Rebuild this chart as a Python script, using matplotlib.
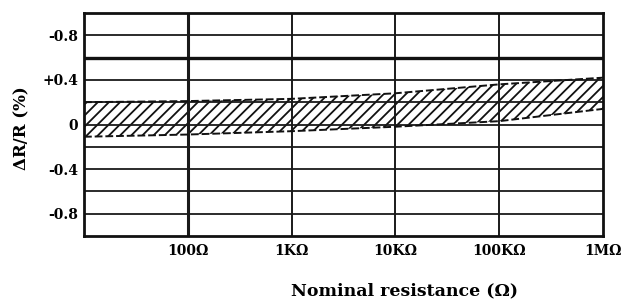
import matplotlib
matplotlib.use("Agg")
import matplotlib.pyplot as plt
import numpy as np

# Data
resistance = [10, 100, 1e3, 1e4, 1e5, 1e6]
band_upper = [0.20, 0.21, 0.23, 0.28, 0.36, 0.42]
band_lower = [-0.11, -0.09, -0.06, -0.02, 0.03, 0.14]
limit_line = 0.6

xtick_vals = [100, 1e3, 1e4, 1e5, 1e6]
xtick_labels = ["100Ω", "1KΩ", "10KΩ", "100KΩ", "1MΩ"]
ytick_vals = [0.8, 0.4, 0.0, -0.4, -0.8]
ytick_labels = ["-0.8", "+0.4", "0", "-0.4", "-0.8"]
ygrid_vals = [0.8, 0.4, 0.2, 0.0, -0.2, -0.4, -0.6, -0.8]
xgrid_vals = [100, 1e3, 1e4, 1e5]

plt.rcParams['font.family'] = ['DejaVu Serif']
plt.rcParams['hatch.linewidth'] = 1.3

fig = plt.figure(figsize=(6.37, 3.04), dpi=100)
ax = fig.add_axes([84/637, 1 - 236/304, (603-84)/637, (236-13)/304])

ax.set_xscale('log')
ax.set_xlim(10, 1e6)
ax.set_ylim(-1.0, 1.0)

# hatched tolerance band
xs = np.array(resistance)
ax.fill_between(xs, band_lower, band_upper, facecolor='white', edgecolor='#111111',
                hatch='///', lw=0, zorder=1)
ax.plot(xs, band_upper, color='#111111', lw=1.4, ls=(0, (4, 1.5)), zorder=4)
ax.plot(xs, band_lower, color='#111111', lw=1.4, ls=(0, (4, 1.5)), zorder=4)

for y in ygrid_vals:
    ax.axhline(y, color='#1a1a1a', lw=1.3, zorder=2)
for x in xgrid_vals:
    ax.axvline(x, color='#1a1a1a', lw=2.2 if x == 100 else 1.4, zorder=2)
ax.axhline(limit_line, color='#111111', lw=2.4, zorder=3)

for s in ax.spines.values():
    s.set_linewidth(2.0)
    s.set_color('#111111')

ax.set_xticks(xtick_vals)
ax.set_xticklabels(xtick_labels, fontsize=10, fontweight='bold')
ax.xaxis.set_minor_locator(matplotlib.ticker.NullLocator())
ax.set_yticks(ytick_vals)
ax.set_yticklabels(ytick_labels, fontsize=10, fontweight='bold')
ax.tick_params(axis='both', length=0, pad=4)
ax.tick_params(axis='x', pad=6)

fig.text(22/637, 1 - 128/304, "ΔR/R (%)", rotation=90, ha='center', va='center',
         fontsize=12, fontweight='bold')
fig.text(405/637, 1 - 291/304, "Nominal resistance (Ω)", ha='center', va='center',
         fontsize=12.5, fontweight='bold')

fig.savefig("out.png", dpi=100)
